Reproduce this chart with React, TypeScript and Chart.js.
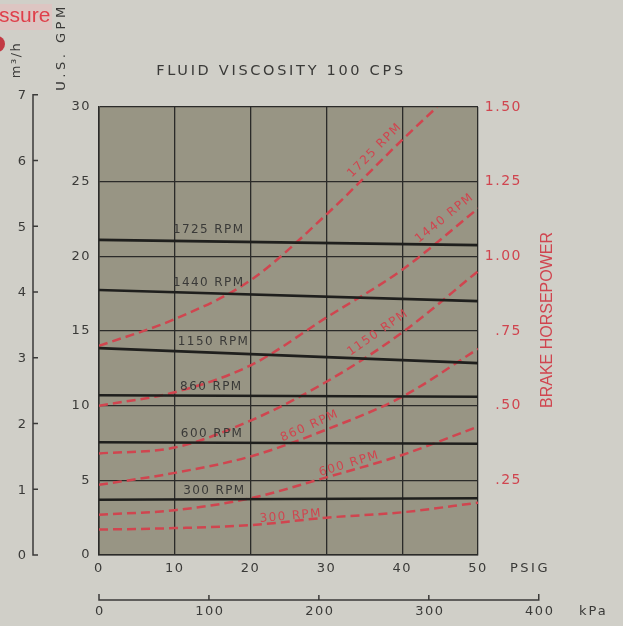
import React, { useEffect, useRef } from 'react';
import { Chart, registerables } from 'chart.js';

Chart.register(...registerables);

// ---- axis ticks ----
const psiTicks = [0, 10, 20, 30, 40, 50];
const gpmTicks = [0, 5, 10, 15, 20, 25, 30];
const bhpTicks = [0, 0.25, 0.5, 0.75, 1.0, 1.25, 1.5];
const m3hTicks = [0, 1, 2, 3, 4, 5, 6, 7];
const kpaTicks = [0, 100, 200, 300, 400];

// ---- series ----
const rpmNames = ['1725 RPM', '1440 RPM', '1150 RPM', '860 RPM', '600 RPM', '300 RPM'];

// flow (U.S. GPM) vs pressure (PSIG)
const flowPsi = [0, 50];
const flow1725 = [21.1, 20.75];
const flow1440 = [17.75, 17.0];
const flow1150 = [13.85, 12.85];
const flow860 = [10.7, 10.6];
const flow600 = [7.55, 7.45];
const flow300 = [3.7, 3.8];

// brake horsepower vs pressure (PSIG)
const bhpPsi = [0, 10, 20, 30, 40, 50];
const bhpPsi1725 = [0, 10, 20, 30, 40, 44.6];
const bhp1725 = [0.7, 0.79, 0.92, 1.14, 1.39, 1.5];
const bhp1440 = [0.5, 0.545, 0.635, 0.795, 0.955, 1.16];
const bhp1150 = [0.34, 0.36, 0.45, 0.58, 0.745, 0.95];
const bhp860 = [0.235, 0.275, 0.33, 0.42, 0.53, 0.69];
const bhp600 = [0.135, 0.15, 0.19, 0.26, 0.335, 0.43];
const bhp300 = [0.085, 0.09, 0.1, 0.125, 0.143, 0.175];

// ---- label placement (data units) ----
const flowLabelPsi = [9.76, 9.76, 10.4, 10.7, 10.8, 11.1];
const flowLabelGpm = [21.77, 18.22, 14.27, 11.25, 8.1, 4.29];
const bhpLabelPsi = [36.4, 45.6, 36.8, 27.8, 33.0, 25.3];
const bhpLabelVal = [1.355, 1.128, 0.744, 0.432, 0.305, 0.13];
const bhpLabelAngle = [-45, -39, -35, -24, -17, -5];

const GPM_PER_M3H = 4.40287;
const KPA_PER_PSI = 6.89476;

const BG = '#d0cfc8';
const PLOT = '#989584';
const TEXT = '#3a3a38';
const GRID = '#2b2b29';
const RED = '#d0454f';
const BLACK = '#1f1f1d';
const FONT = 'DejaVu Sans';

function txt(ctx: any, s: string, x: number, y: number, o: any) {
  ctx.save();
  ctx.translate(x, y);
  ctx.rotate(((o.rot || 0) * Math.PI) / 180);
  ctx.font = o.font;
  ctx.fillStyle = o.color;
  ctx.textAlign = o.align || 'center';
  ctx.textBaseline = o.baseline || 'middle';
  ctx.letterSpacing = o.spacing || '0px';
  ctx.fillText(s, 0, 0);
  ctx.restore();
}

const decor = {
  id: 'decor',
  beforeDraw(chart: any) {
    const { ctx, chartArea: a, width, height } = chart;
    ctx.save();
    ctx.fillStyle = BG;
    ctx.fillRect(0, 0, width, height);
    ctx.fillStyle = PLOT;
    ctx.fillRect(a.left, a.top, a.right - a.left, a.bottom - a.top);
    ctx.restore();
    ctx.letterSpacing = '1.5px';
  },
  afterDraw(chart: any) {
    const { ctx } = chart;
    const xs = chart.scales.x;
    const ys = chart.scales.y;
    const yb = chart.scales.yBhp;

    // title
    txt(ctx, 'FLUID VISCOSITY 100 CPS', 281, 71, { font: `14.5px ${FONT}`, color: TEXT, spacing: '2.7px' });
    // PSIG
    txt(ctx, 'PSIG', 510, 569, { font: `13px ${FONT}`, color: TEXT, align: 'left', spacing: '2.5px' });
    // U.S. GPM
    txt(ctx, 'U.S. GPM', 62, 47, { font: `13px ${FONT}`, color: TEXT, rot: -90, spacing: '3.5px' });
    // m3/h title
    txt(ctx, 'm³/h', 17, 60, { font: `13px ${FONT}`, color: TEXT, rot: -90, spacing: '1.5px' });

    // m3/h axis (bracket)
    const ax = 33;
    const yTop = ys.getPixelForValue(m3hTicks[m3hTicks.length - 1] * GPM_PER_M3H);
    const yBot = ys.getPixelForValue(0);
    ctx.save();
    ctx.strokeStyle = TEXT;
    ctx.lineWidth = 1.5;
    ctx.beginPath();
    ctx.moveTo(ax + 5, yTop);
    ctx.lineTo(ax, yTop);
    ctx.lineTo(ax, yBot);
    ctx.lineTo(ax + 5, yBot);
    m3hTicks.slice(1, -1).forEach((t) => {
      const y = ys.getPixelForValue(t * GPM_PER_M3H);
      ctx.moveTo(ax, y);
      ctx.lineTo(ax + 5, y);
    });
    ctx.stroke();
    ctx.restore();
    m3hTicks.forEach((t) => {
      const y = ys.getPixelForValue(t * GPM_PER_M3H);
      txt(ctx, String(t), 26, y + 1, { font: `13px ${FONT}`, color: TEXT, align: 'right' });
    });

    // kPa axis
    const ky = 600;
    const xAt = (k: number) => xs.getPixelForValue(k / KPA_PER_PSI);
    ctx.save();
    ctx.strokeStyle = TEXT;
    ctx.lineWidth = 1.5;
    ctx.beginPath();
    ctx.moveTo(xAt(kpaTicks[0]), ky - 6);
    ctx.lineTo(xAt(kpaTicks[0]), ky);
    ctx.lineTo(xAt(kpaTicks[kpaTicks.length - 1]), ky);
    ctx.lineTo(xAt(kpaTicks[kpaTicks.length - 1]), ky - 6);
    kpaTicks.slice(1, -1).forEach((k) => {
      ctx.moveTo(xAt(k), ky);
      ctx.lineTo(xAt(k), ky - 5);
    });
    ctx.stroke();
    ctx.restore();
    kpaTicks.forEach((k) => {
      txt(ctx, String(k), xAt(k) + 1, 612, { font: `13px ${FONT}`, color: TEXT, spacing: '1.5px' });
    });
    txt(ctx, 'kPa', 579, 612, { font: `13px ${FONT}`, color: TEXT, align: 'left', spacing: '2px' });

    // brake horsepower title
    txt(ctx, 'BRAKE HORSEPOWER', 548, 320, { font: '16px "Liberation Sans"', color: RED, rot: -90 });

    // clipped "Pressure" note at top-left
    ctx.save();
    ctx.fillStyle = 'rgba(232,190,190,0.55)';
    ctx.fillRect(0, 4, 52, 26);
    ctx.fillStyle = '#c23a44';
    ctx.beginPath();
    ctx.arc(-3, 44, 8, 0, Math.PI * 2);
    ctx.fill();
    ctx.restore();
    txt(ctx, 'ssure', -1, 22, { font: '21px "Liberation Sans"', color: '#df3f4a', align: 'left', baseline: 'alphabetic' });

    // RPM labels on flow lines and on horsepower curves
    rpmNames.forEach((n, i) => {
      txt(ctx, n, xs.getPixelForValue(flowLabelPsi[i]), ys.getPixelForValue(flowLabelGpm[i]), {
        font: `12px ${FONT}`, color: TEXT, align: 'left', spacing: '1.4px',
      });
      txt(ctx, n, xs.getPixelForValue(bhpLabelPsi[i]), yb.getPixelForValue(bhpLabelVal[i]), {
        font: `12px ${FONT}`, color: RED, rot: bhpLabelAngle[i], spacing: '1.4px',
      });
    });
  },
};

const flowSeries = [flow1725, flow1440, flow1150, flow860, flow600, flow300];
const bhpSeries = [bhp1725, bhp1440, bhp1150, bhp860, bhp600, bhp300];

export default function App() {
  const ref = useRef<HTMLCanvasElement | null>(null);
  useEffect(() => {
    if (!ref.current) return;
    const datasets: any[] = [
      ...flowSeries.map((vals, i) => ({
        label: rpmNames[i] + ' GPM',
        data: vals.map((v, j) => ({ x: flowPsi[j], y: v })),
        yAxisID: 'y',
        borderColor: BLACK,
        borderWidth: 2.6,
        pointRadius: 0,
        fill: false,
      })),
      ...bhpSeries.map((vals, i) => {
        const xsrc = i === 0 ? bhpPsi1725 : bhpPsi;
        return {
          label: rpmNames[i] + ' BHP',
          data: vals.map((v, j) => ({ x: xsrc[j], y: v })),
          yAxisID: 'yBhp',
          borderColor: RED,
          borderWidth: 2.5,
          borderDash: [9, 5],
          pointRadius: 0,
          fill: false,
          cubicInterpolationMode: 'monotone',
        };
      }),
    ];
    const tickFont = { family: FONT, size: 13 };
    const chart = new Chart(ref.current, {
      type: 'line',
      data: { datasets },
      options: {
        animation: false,
        responsive: false,
        layout: { padding: { top: 107, left: 0, right: 101, bottom: 0 } },
        plugins: { legend: { display: false }, tooltip: { enabled: false }, title: { display: false } },
        scales: {
          x: {
            type: 'linear',
            position: 'bottom',
            min: 0,
            max: 50,
            afterBuildTicks: (s: any) => { s.ticks = psiTicks.map((v) => ({ value: v })); },
            ticks: { color: TEXT, font: tickFont, padding: 6, maxRotation: 0, autoSkip: false },
            grid: { color: GRID, lineWidth: 1.3, drawTicks: false },
            border: { color: GRID, width: 1.5 },
            afterFit: (s: any) => { s.height = 71; },
          },
          y: {
            type: 'linear',
            position: 'left',
            min: 0,
            max: 30,
            afterBuildTicks: (s: any) => { s.ticks = gpmTicks.map((v) => ({ value: v })); },
            ticks: { color: TEXT, font: tickFont, padding: 8, autoSkip: false },
            grid: { color: GRID, lineWidth: 1.3, drawTicks: false },
            border: { color: GRID, width: 1.5 },
            afterFit: (s: any) => { s.width = 99; },
          },
          yBhp: {
            type: 'linear',
            position: 'right',
            min: 0,
            max: 1.5,
            afterBuildTicks: (s: any) => { s.ticks = bhpTicks.map((v) => ({ value: v })); },
            ticks: {
              color: RED,
              font: { family: FONT, size: 14 },
              padding: 5,
              crossAlign: 'far',
              autoSkip: false,
              callback: (v: any) => (v === 0 ? '' : v >= 1 ? Number(v).toFixed(2) : Number(v).toFixed(2).slice(1)),
            },
            grid: { drawOnChartArea: false, drawTicks: false },
            border: { display: false },
            afterFit: (s: any) => { s.width = 44; },
          },
        },
      } as any,
      plugins: [decor],
    });
    return () => chart.destroy();
  }, []);
  return (
    <div style={{ position: 'absolute', left: 0, top: 0, width: 623, height: 626, background: BG }}>
      <canvas ref={ref} width={623} height={626} style={{ display: 'block' }} />
    </div>
  );
}
